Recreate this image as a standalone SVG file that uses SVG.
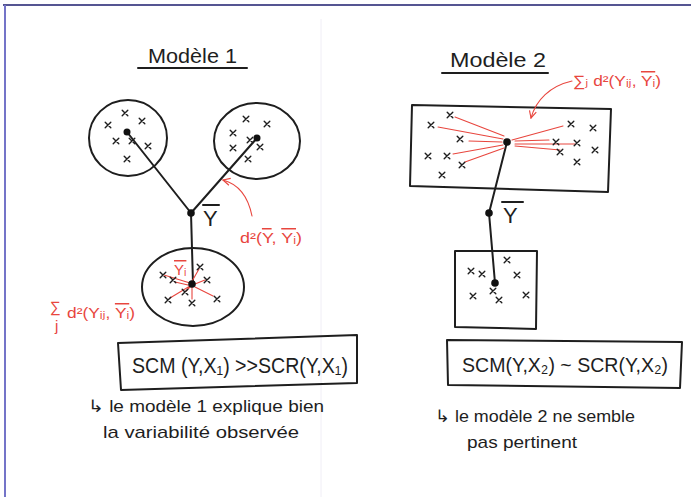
<svg xmlns="http://www.w3.org/2000/svg" xmlns:xlink="http://www.w3.org/1999/xlink" width="691" height="497" viewBox="0 0 691 497">
  <style>
    .ink { fill: none; stroke: #1e1e1e; stroke-width: 2; stroke-linecap: round; stroke-linejoin: round; }
    .red { fill: none; stroke: #e8463e; stroke-width: 1.1; stroke-linecap: round; }
    .dot { fill: #111; }
    .hand { font-family: "Liberation Sans", "DejaVu Sans", sans-serif; fill: #1e1e1e; }
    .title { font-size: 21px; }
    .note { font-size: 17px; }
    .formula { font-size: 22px; }
    .rtxt { font-family: "Liberation Sans", "DejaVu Sans", sans-serif; fill: #e8463e; font-size: 15px; }
    .ybar { font-family: "Liberation Sans", "DejaVu Sans", sans-serif; fill: #1e1e1e; font-size: 22px; }
  </style>
  <defs>
    <g id="x">
      <path d="M-2.8,-2.8 L2.8,2.8 M2.8,-2.8 L-2.8,2.8" fill="none" stroke="#1e1e1e" stroke-width="1.4" stroke-linecap="round"/>
    </g>
    <marker id="redhead" viewBox="0 0 10 10" refX="9" refY="5" markerWidth="8" markerHeight="8" orient="auto">
      <path d="M1,1 L9,5 L1,9" fill="none" stroke="#e8463e" stroke-width="1.3"/>
    </marker>
  </defs>

  <rect width="691" height="497" fill="#ffffff"/>
  <!-- page frame -->
  <line x1="3" y1="5" x2="691" y2="5" stroke="#1c1c6e" stroke-width="1.5"/>
  <line x1="5" y1="5" x2="5" y2="497" stroke="#7474c8" stroke-width="2"/>
  <line x1="321" y1="19" x2="321" y2="497" stroke="#f0eef6" stroke-width="1"/>

  <!-- ===== Model 1 ===== -->
  <g id="title1">
    <text class="hand title" x="148" y="63" textLength="89" lengthAdjust="spacingAndGlyphs">Modèle 1</text>
    <line class="ink" x1="138" y1="68" x2="247" y2="68" stroke-width="1.8"/>
  </g>

  <g id="connectors1">
    <path class="ink" d="M127,132 L191,213 L257,138"/>
    <path class="ink" d="M191,213 L193,284"/>
  </g>

  <g id="cluster1a">
    <ellipse class="ink" cx="128" cy="138" rx="39" ry="38"/>
    <circle class="dot" cx="127" cy="132" r="3.5"/>
    <use href="#x" x="108" y="125"/>
    <use href="#x" x="125" y="113"/>
    <use href="#x" x="142" y="121"/>
    <use href="#x" x="116" y="141"/>
    <use href="#x" x="132" y="141"/>
    <use href="#x" x="148" y="146"/>
    <use href="#x" x="127" y="159"/>
  </g>

  <g id="cluster1b">
    <ellipse class="ink" cx="257" cy="141" rx="43" ry="38"/>
    <circle class="dot" cx="257" cy="138" r="3.5"/>
    <use href="#x" x="246" y="119"/>
    <use href="#x" x="267" y="124"/>
    <use href="#x" x="233" y="133"/>
    <use href="#x" x="233" y="148"/>
    <use href="#x" x="250" y="140"/>
    <use href="#x" x="260" y="147"/>
    <use href="#x" x="248" y="159"/>
  </g>

  <g id="mean1">
    <circle class="dot" cx="191" cy="213" r="3.8"/>
    <text class="ybar" x="203" y="226">Y</text>
    <line class="ink" x1="203" y1="205" x2="219" y2="205" stroke-width="1.6"/>
  </g>

  <g id="between1">
    <path class="red" d="M252,216 C248,196 238,184 223,180" marker-end="url(#redhead)"/>
    <text class="rtxt" x="240" y="243" font-size="18" textLength="62" lengthAdjust="spacingAndGlyphs">d²(<tspan text-decoration="overline">Y</tspan>, <tspan text-decoration="overline">Yᵢ</tspan>)</text>
  </g>

  <g id="cluster1c">
    <ellipse class="ink" cx="193" cy="287" rx="51" ry="39"/>
    <path class="red" d="M190,283 L164,275 M188,285 L175,282 M191,283 L199,269 M195,284 L205,280 M191,286 L186,291 M190,286 L170,298 M192,287 L192,299 M195,287 L213,296"/>
    <circle class="dot" cx="192" cy="284" r="3.8"/>
    <use href="#x" x="163" y="275"/>
    <use href="#x" x="173" y="280"/>
    <use href="#x" x="200" y="267"/>
    <use href="#x" x="207" y="280"/>
    <use href="#x" x="185" y="292"/>
    <use href="#x" x="168" y="300"/>
    <use href="#x" x="192" y="303"/>
    <use href="#x" x="217" y="299"/>
    <text class="rtxt" x="174" y="275" font-size="13" text-decoration="overline">Yᵢ</text>
  </g>

  <g id="within1">
    <text class="rtxt" x="50" y="312" font-size="15">∑</text>
    <text class="rtxt" x="55" y="331" font-size="12">j</text>
    <text class="rtxt" x="67" y="318" font-size="16" textLength="68" lengthAdjust="spacingAndGlyphs">d²(Yᵢⱼ, <tspan text-decoration="overline">Yᵢ</tspan>)</text>
  </g>

  <g id="result1">
    <path class="ink" d="M118,343 L357,335 L357,383 L121,390 Z"/>
    <text class="hand formula" x="132" y="373" textLength="216" lengthAdjust="spacingAndGlyphs">SCM (Y,X₁) &gt;&gt;SCR(Y,X₁)</text>
  </g>

  <g id="comment1">
    <text class="hand note" x="88" y="412" textLength="236" lengthAdjust="spacingAndGlyphs">↳ le modèle 1 explique bien</text>
    <text class="hand note" x="103" y="438" textLength="196" lengthAdjust="spacingAndGlyphs">la variabilité observée</text>
  </g>

  <!-- ===== Model 2 ===== -->
  <g id="title2">
    <text class="hand title" x="450" y="67" textLength="96" lengthAdjust="spacingAndGlyphs">Modèle 2</text>
    <line class="ink" x1="442" y1="73" x2="548" y2="73" stroke-width="1.8"/>
  </g>

  <g id="connectors2">
    <path class="ink" d="M507,142 L489,213 L495,283"/>
  </g>

  <g id="cluster2a">
    <path class="ink" d="M412,105 L611,109 L608,192 L410,186 Z"/>
    <path class="red" d="M455,117 L504,136 M438,127 L503,139 M469,141 L502,142 M453,154 L503,145 M465,162 L504,148 M512,140 L563,126 M515,141 L549,140 M515,144 L575,144 M515,146 L560,150"/>
    <circle class="dot" cx="507" cy="142" r="3.8"/>
    <use href="#x" x="450" y="115"/>
    <use href="#x" x="431" y="125"/>
    <use href="#x" x="460" y="139"/>
    <use href="#x" x="428" y="156"/>
    <use href="#x" x="447" y="156"/>
    <use href="#x" x="462" y="165"/>
    <use href="#x" x="442" y="175"/>
    <use href="#x" x="571" y="124"/>
    <use href="#x" x="593" y="128"/>
    <use href="#x" x="556" y="142"/>
    <use href="#x" x="577" y="143"/>
    <use href="#x" x="595" y="150"/>
    <use href="#x" x="560" y="152"/>
    <use href="#x" x="577" y="162"/>
  </g>

  <g id="within2">
    <path class="red" d="M572,81 C550,86 536,100 531,118" marker-end="url(#redhead)"/>
    <text class="rtxt" x="573" y="86" font-size="16" textLength="88" lengthAdjust="spacingAndGlyphs">∑ⱼ d²(Yᵢⱼ, <tspan text-decoration="overline">Yᵢ</tspan>)</text>
  </g>

  <g id="mean2">
    <circle class="dot" cx="489" cy="213" r="3.8"/>
    <text class="ybar" x="503" y="223">Y</text>
    <line class="ink" x1="502" y1="202" x2="523" y2="202" stroke-width="1.6"/>
  </g>

  <g id="cluster2b">
    <path class="ink" d="M455,251 L537,251 L536,329 L455,327 Z"/>
    <circle class="dot" cx="495" cy="283" r="3.8"/>
    <use href="#x" x="507" y="260"/>
    <use href="#x" x="471" y="271"/>
    <use href="#x" x="482" y="274"/>
    <use href="#x" x="517" y="275"/>
    <use href="#x" x="493" y="291"/>
    <use href="#x" x="473" y="296"/>
    <use href="#x" x="499" y="300"/>
    <use href="#x" x="526" y="295"/>
  </g>

  <g id="result2">
    <path class="ink" d="M447,340 L682,342 L680,388 L448,385 Z"/>
    <text class="hand" font-size="20.5" x="462" y="372" textLength="206" lengthAdjust="spacingAndGlyphs">SCM(Y,X₂) ~ SCR(Y,X₂)</text>
  </g>

  <g id="comment2">
    <text class="hand note" x="435" y="422" textLength="200" lengthAdjust="spacingAndGlyphs">↳ le modèle 2 ne semble</text>
    <text class="hand note" x="467" y="448" textLength="110" lengthAdjust="spacingAndGlyphs">pas pertinent</text>
  </g>
</svg>
